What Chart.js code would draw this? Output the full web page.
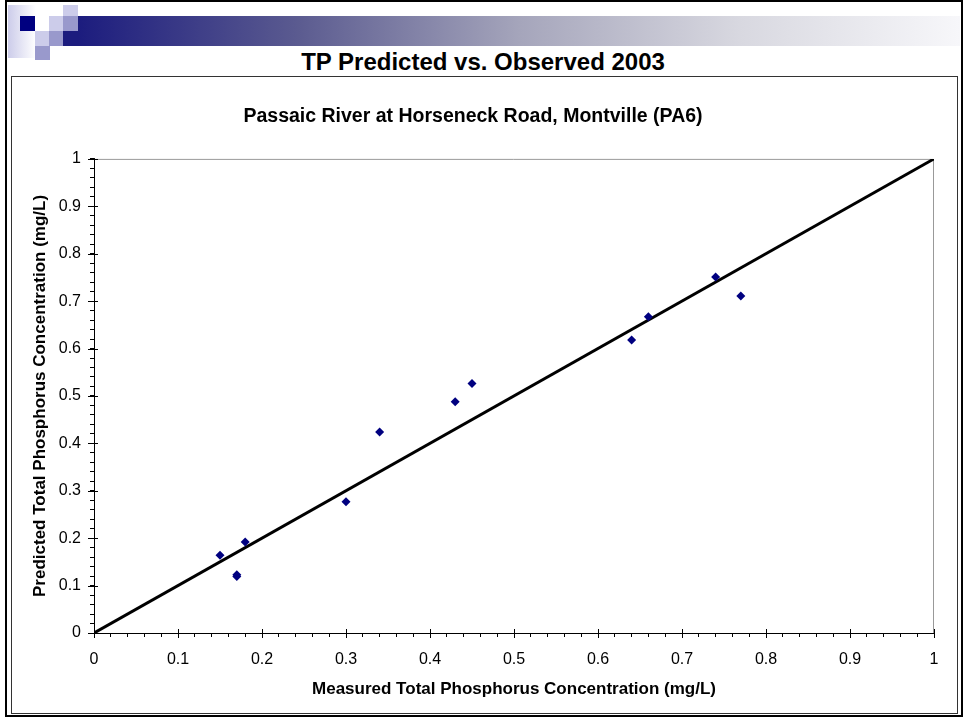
<!DOCTYPE html>
<html>
<head>
<meta charset="utf-8">
<script src="https://cdn.jsdelivr.net/npm/chart.js@4.4.1/dist/chart.umd.min.js"></script>
<style>
    body { margin: 0; width: 966px; height: 721px; background: #fff; position: relative; overflow: hidden; font-family: "Liberation Sans", Arial, sans-serif; }
    .abs { position: absolute; }
    .frame { left: 5px; top: 0; width: 958px; height: 717px; border: 2px solid #000; box-sizing: border-box; }
    .fade { left: 8px; top: 5px; width: 28px; height: 53px; background: linear-gradient(to right, #ccccea, #ffffff); }
    .bar { left: 78px; top: 16px; width: 882px; height: 30px;
        background: linear-gradient(to right, #1c1c7e 0%, #5b5b90 25%, #a5a5bb 50%, #d8d8e0 75%, #f7f7fa 100%); }
    .sq { width: 15px; height: 15px; }
    .navy { background: #000080; }
    .dark { background: #1c1c7e; }
    .mid { background: #9999cc; }
    .light { background: #ccccea; }
    .white { background: #fff; }
    .heading { left: 0; top: 48px; width: 966px; text-align: center; font-size: 24px; font-weight: bold; line-height: 28px; }
    .box { left: 11px; top: 76px; width: 947px; height: 638px; border: 1px solid #333; box-sizing: border-box; }
    #chart-wrap { left: 12px; top: 77px; width: 945px; height: 636px; }
</style>
</head>
<body>
<div class="abs frame"></div>
<div class="abs fade"></div>
<div class="abs bar"></div>
<div class="abs sq navy" style="left:20px;top:16px"></div>
<div class="abs sq white" style="left:35px;top:16px;width:14px"></div>
<div class="abs sq light" style="left:63px;top:5px;height:11px"></div>
<div class="abs sq light" style="left:49px;top:16px;width:14px"></div>
<div class="abs sq mid" style="left:63px;top:16px"></div>
<div class="abs sq light" style="left:35px;top:31px;width:14px"></div>
<div class="abs sq mid" style="left:49px;top:31px;width:14px"></div>
<div class="abs sq dark" style="left:63px;top:31px"></div>
<div class="abs sq mid" style="left:35px;top:46px;height:14px"></div>
<div class="abs heading">TP Predicted vs. Observed 2003</div>
<div class="abs box"></div>
<div class="abs" id="chart-wrap"><canvas id="tp-chart" width="945" height="636"></canvas></div>

<script>
// Data
const measured = [0.15, 0.17, 0.17, 0.18, 0.30, 0.34, 0.43, 0.45, 0.64, 0.66, 0.74, 0.77];
const predicted = [0.164, 0.119, 0.123, 0.192, 0.277, 0.424, 0.488, 0.526, 0.618, 0.667, 0.751, 0.711];
const lineX = [0, 1];
const lineY = [0, 1];
const tickLabels = ['0', '0.1', '0.2', '0.3', '0.4', '0.5', '0.6', '0.7', '0.8', '0.9', '1'];

const FONT = '"Liberation Sans", Arial, sans-serif';

// label only every 5th (minor step 0.02)
const majorLabel = (value, index) => (index % 5 === 0 ? tickLabels[index / 5] : '');

// grey frame on top/right + major ticks crossing the axes
const plotFrame = {
    id: 'plotFrame',
    beforeDatasetsDraw(chart) {
        const { ctx, chartArea: a } = chart;
        ctx.save();
        ctx.strokeStyle = '#999';
        ctx.lineWidth = 1;
        ctx.beginPath();
        ctx.moveTo(a.left, a.top + 0.5);
        ctx.lineTo(a.right - 0.5, a.top + 0.5);
        ctx.lineTo(a.right - 0.5, a.bottom);
        ctx.stroke();

        ctx.strokeStyle = '#000';
        const xs = chart.scales.x, ys = chart.scales.y;
        xs.ticks.forEach((t, i) => {
            if (i % 5 !== 0) return;
            const px = Math.round(xs.getPixelForValue(t.value)) + 0.5;
            ctx.beginPath();
            ctx.moveTo(px, a.bottom - 4);
            ctx.lineTo(px, a.bottom + 5);
            ctx.stroke();
        });
        ys.ticks.forEach((t, i) => {
            if (i % 5 !== 0) return;
            const py = Math.round(ys.getPixelForValue(t.value)) + 0.5;
            ctx.beginPath();
            ctx.moveTo(a.left - 6, py);
            ctx.lineTo(a.left + 4, py);
            ctx.stroke();
        });
        ctx.restore();
    }
};

const ctx = document.getElementById('tp-chart').getContext('2d');

const tpChart = new Chart(ctx, {
    type: 'scatter',
    data: {
        datasets: [{
            label: 'Observed',
            data: measured.map((x, i) => ({ x: x, y: predicted[i] })),
            backgroundColor: '#000080',
            borderColor: '#000080',
            pointStyle: 'rectRot',
            pointRadius: 4.5,
            borderWidth: 0,
        }, {
            label: '1:1',
            type: 'line',
            data: lineX.map((x, i) => ({ x: x, y: lineY[i] })),
            borderColor: '#000',
            borderWidth: 3,
            pointRadius: 0,
            fill: false,
        }]
    },
    options: {
        responsive: false,
        animation: false,
        layout: { padding: { left: 0, right: 23, top: 0, bottom: 0 } },
        plugins: {
            legend: { display: false },
            tooltip: { enabled: false },
            title: {
                display: true,
                text: 'Passaic River at Horseneck Road, Montville (PA6)',
                color: '#000',
                font: { family: FONT, size: 19.5, weight: 'bold' },
                padding: { top: 28, bottom: 30.5 },
            }
        },
        scales: {
            x: {
                type: 'linear',
                min: 0,
                max: 1,
                afterFit: (scale) => { scale.height = 80; },
                ticks: {
                    stepSize: 0.02,
                    autoSkip: false,
                    maxRotation: 0,
                    padding: 13,
                    color: '#000',
                    font: { family: FONT, size: 16 },
                    callback: majorLabel,
                },
                grid: { drawOnChartArea: false, drawTicks: true, tickLength: 4, color: '#000', tickColor: '#000' },
                border: { color: '#000', width: 1 },
                title: {
                    display: true,
                    text: 'Measured Total Phosphorus Concentration (mg/L)',
                    color: '#000',
                    font: { family: FONT, size: 17, weight: 'bold' },
                    padding: { top: 0, bottom: 13.5 },
                }
            },
            y: {
                type: 'linear',
                min: 0,
                max: 1,
                afterFit: (scale) => { scale.width = 82; },
                ticks: {
                    stepSize: 0.02,
                    autoSkip: false,
                    padding: 9,
                    color: '#000',
                    font: { family: FONT, size: 16 },
                    callback: majorLabel,
                },
                grid: { drawOnChartArea: false, drawTicks: true, tickLength: 4, color: '#000', tickColor: '#000' },
                border: { color: '#000', width: 1 },
                title: {
                    display: true,
                    text: 'Predicted Total Phosphorus Concentration (mg/L)',
                    color: '#000',
                    font: { family: FONT, size: 17, weight: 'bold' },
                    padding: { top: 18, bottom: 0 },
                }
            }
        }
    },
    plugins: [plotFrame]
});
</script>
</body>
</html>
